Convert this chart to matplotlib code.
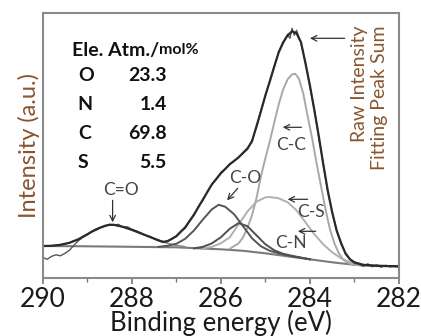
import matplotlib
matplotlib.use('Agg')
import matplotlib.pyplot as plt
from matplotlib.ticker import MultipleLocator

plt.rcParams['font.family'] = ['Lato', 'DejaVu Sans']

# binding energy (eV) and intensity (arbitrary units)
bg_x = [290.0, 289.0, 288.0, 287.0, 286.5, 286.0, 285.5, 285.0, 284.5, 284.0, 283.5, 283.0, 282.5, 282.0]
bg_y = [32.3, 32.0, 31.5, 31.0, 30.0, 29.0, 27.5, 25.0, 22.0, 19.0, 16.0, 13.5, 12.5, 12.0]

co2_x = [289.8, 289.6, 289.4, 289.2, 289.0, 288.8, 288.6, 288.5, 288.4, 288.2, 288.0, 287.8,
         287.6, 287.4, 287.2, 287.0, 286.8]
co2_y = [32.5, 33.5, 35.5, 39.0, 44.0, 49.0, 52.5, 53.5, 53.5, 51.5, 48.5, 45.0,
         41.5, 38.0, 35.0, 33.0, 31.5]

co_x = [287.4, 287.2, 287.0, 286.8, 286.6, 286.4, 286.2, 286.05, 285.9, 285.7, 285.5, 285.3,
        285.1, 284.9, 284.7, 284.4, 284.0]
co_y = [31.5, 32.5, 34.5, 39.5, 48.0, 59.0, 69.0, 73.5, 71.5, 64.0, 52.0, 40.0,
        32.0, 27.5, 25.0, 22.0, 19.0]

cn_x = [286.6, 286.4, 286.2, 286.0, 285.8, 285.6, 285.4, 285.2, 285.0, 284.8, 284.6, 284.4, 284.0]
cn_y = [30.0, 31.5, 35.0, 41.0, 49.5, 55.3, 52.0, 43.0, 34.0, 28.0, 24.5, 22.5, 19.0]

cs_x = [286.4, 286.2, 286.0, 285.8, 285.6, 285.4, 285.2, 285.0, 284.9, 284.7, 284.5, 284.3,
        284.1, 283.9, 283.7, 283.5, 283.3, 283.1, 282.9, 282.7]
cs_y = [30.0, 31.5, 35.0, 41.0, 54.0, 67.0, 76.5, 81.0, 81.3, 80.0, 76.0, 68.0,
        56.0, 44.0, 34.0, 26.0, 20.0, 16.0, 13.5, 12.5]

cc_x = [285.8, 285.6, 285.5, 285.4, 285.3, 285.2, 285.1, 285.0, 284.9, 284.8, 284.7, 284.6,
        284.5, 284.4, 284.33, 284.25, 284.15, 284.05, 283.95, 283.85, 283.75, 283.65,
        283.55, 283.45, 283.35, 283.25, 283.1, 282.9, 282.6, 282.0]
cc_y = [29.5, 35.0, 41.0, 51.0, 63.0, 80.0, 102.0, 120.0, 137.0, 156.0, 174.0, 189.0,
        199.0, 204.0, 204.5, 200.0, 185.0, 162.0, 140.0, 115.0, 92.0, 69.0,
        49.0, 35.0, 25.0, 18.5, 14.5, 13.0, 12.5, 12.0]

sum_x = [290.0, 289.8, 289.6, 289.4, 289.2, 289.0, 288.8, 288.6, 288.5, 288.4, 288.2, 288.0,
         287.8, 287.6, 287.4, 287.3, 287.2, 287.0, 286.8, 286.6, 286.4, 286.2, 286.0, 285.8,
         285.6, 285.4, 285.3, 285.2, 285.1, 285.0, 284.9, 284.8, 284.7, 284.6, 284.5, 284.4,
         284.3, 284.2, 284.1, 284.0, 283.9, 283.8, 283.7, 283.6, 283.5, 283.4, 283.3, 283.2,
         283.1, 283.0, 282.8, 282.5, 282.0]
sum_y = [32.3, 32.5, 33.5, 35.5, 39.0, 44.0, 49.0, 52.5, 53.5, 53.5, 51.5, 48.5,
         45.0, 41.5, 38.0, 36.5, 37.0, 42.0, 51.0, 64.0, 79.0, 94.0, 105.0, 114.0,
         121.0, 130.0, 137.0, 152.0, 167.0, 183.0, 197.0, 212.0, 226.0, 236.0, 243.0, 247.0,
         245.0, 236.0, 215.0, 193.0, 168.0, 142.0, 114.0, 88.0, 66.0, 48.0, 35.0, 25.0,
         19.0, 16.0, 13.5, 12.5, 12.0]

raw_x = [290.0, 289.9, 289.8, 289.7, 289.6, 289.5, 289.4, 289.3, 289.2, 289.1, 289.0, 288.9,
         288.8, 288.7, 288.6, 288.5, 288.4, 288.3, 288.2, 288.1, 288.0, 287.9, 287.8, 287.7,
         287.6, 287.5, 287.4, 287.3, 287.2, 287.1, 287.0, 286.9, 286.8, 286.7, 286.6, 286.5,
         286.4, 286.3, 286.2, 286.1, 286.0, 285.9, 285.8, 285.7, 285.6, 285.5, 285.4, 285.3,
         285.2, 285.1, 285.0, 284.9, 284.8, 284.7, 284.6, 284.5, 284.45, 284.4, 284.35, 284.3,
         284.2, 284.1, 284.0, 283.9, 283.8, 283.7, 283.6, 283.5, 283.4, 283.3, 283.2, 283.1,
         283.0, 282.9, 282.8, 282.7, 282.6, 282.5, 282.4, 282.3, 282.2, 282.1, 282.0]
raw_y = [21.0, 19.0, 22.0, 23.5, 22.5, 25.0, 28.0, 33.0, 37.5, 41.0, 43.5, 47.0,
         48.0, 51.0, 52.0, 54.0, 53.0, 54.0, 51.0, 51.5, 49.0, 47.5, 45.5, 43.0,
         42.0, 39.5, 37.5, 36.0, 37.5, 39.0, 42.5, 47.0, 50.0, 57.0, 63.0, 72.0,
         78.0, 87.0, 94.0, 99.0, 106.0, 109.0, 114.5, 117.0, 121.5, 125.0, 129.0, 138.0,
         151.0, 168.0, 182.0, 198.0, 211.0, 227.0, 235.0, 244.0, 240.0, 250.0, 243.0, 248.0,
         235.0, 216.0, 191.0, 169.0, 140.0, 115.0, 86.0, 67.0, 47.0, 36.0, 24.0, 19.0,
         15.0, 14.0, 12.0, 14.5, 11.5, 13.5, 11.0, 13.0, 11.5, 12.5, 11.0]

elements = ['O', 'N', 'C', 'S']
atm_pct = ['23.3', '1.4', '69.8', '5.5']

fig = plt.figure(figsize=(4.21, 3.36), dpi=100)
ax = fig.add_axes([0.1014, 0.1717, 0.8463, 0.7896])

ax.plot(bg_x, bg_y, color='#7a7a7a', lw=1.5)
ax.plot(co2_x, co2_y, color='#8a8a8a', lw=1.2)
ax.plot(cc_x, cc_y, color='#a8a8a8', lw=1.4)
ax.plot(cs_x, cs_y, color='#b0b0b0', lw=1.4)
ax.plot(co_x, co_y, color='#555555', lw=1.4)
ax.plot(cn_x, cn_y, color='#505050', lw=1.4)
ax.plot(raw_x, raw_y, color='#555555', lw=1.0)
ax.plot(sum_x, sum_y, color='#2a2a2a', lw=1.6)

ax.set_xlim(290, 282)
ax.set_ylim(0, 265.3)
ax.set_yticks([])
ax.xaxis.set_major_locator(MultipleLocator(2))
ax.xaxis.set_minor_locator(MultipleLocator(1))
ax.tick_params(axis='x', which='major', direction='out', length=4, width=1.2,
               color='#777777', labelsize=19, labelcolor='#1a1a1a', pad=2)
ax.tick_params(axis='x', which='minor', direction='out', length=3, width=1.0, color='#777777')
for s in ax.spines.values():
    s.set_color('#8a8a8a')
    s.set_linewidth(1.5)

ax.set_xlabel('Binding energy (eV)', fontsize=18.5, color='#1a1a1a', labelpad=-1)
ax.set_ylabel('Intensity (a.u.)', fontsize=17, color='#8a5530', labelpad=2)

# composition table
head = ax.text(289.34, 228, 'Ele. Atm./', fontsize=14, fontweight='bold', color='#111111',
               ha='left', va='center')
ax.annotate('mol%', xy=(1, 0.12), xycoords=head, fontsize=11.5, fontweight='bold',
            color='#111111', ha='left', va='bottom')
for i, (el, val) in enumerate(zip(elements, atm_pct)):
    hy = 203 - i * 29
    ax.text(289.21, hy, el, fontsize=14, fontweight='bold', color='#111111', ha='left', va='center')
    ax.text(287.21, hy, val, fontsize=14, fontweight='bold', color='#111111', ha='right', va='center')

arr = dict(arrowstyle='->', color='#333333', lw=0.9, shrinkA=0, shrinkB=0)
lab = dict(fontsize=12.5, color='#444444', ha='center', va='center')

ax.text(288.24, 88, 'C=O', **lab)
ax.annotate('', xy=(288.43, 56), xytext=(288.43, 78), arrowprops=arr)
ax.text(285.46, 100, 'C-O', **lab)
ax.annotate('', xy=(285.86, 78), xytext=(285.62, 90), arrowprops=arr)
ax.text(284.43, 133, 'C-C', **lab)
ax.annotate('', xy=(284.61, 151), xytext=(284.19, 151), arrowprops=arr)
ax.text(283.98, 66, 'C-S', **lab)
ax.annotate('', xy=(284.5, 79), xytext=(284.05, 79), arrowprops=arr)
ax.text(284.43, 35, 'C-N', **lab)
ax.annotate('', xy=(284.27, 47), xytext=(283.87, 47), arrowprops=arr)
ax.annotate('', xy=(284.0, 240), xytext=(283.22, 240), arrowprops=arr)

ax.text(282.88, 253, 'Raw Intensity', rotation=90, fontsize=14, color='#8a5530',
        ha='center', va='top')
ax.text(282.44, 253, 'Fitting Peak Sum', rotation=90, fontsize=14, color='#8a5530',
        ha='center', va='top')

fig.savefig('out.png', dpi=100)
